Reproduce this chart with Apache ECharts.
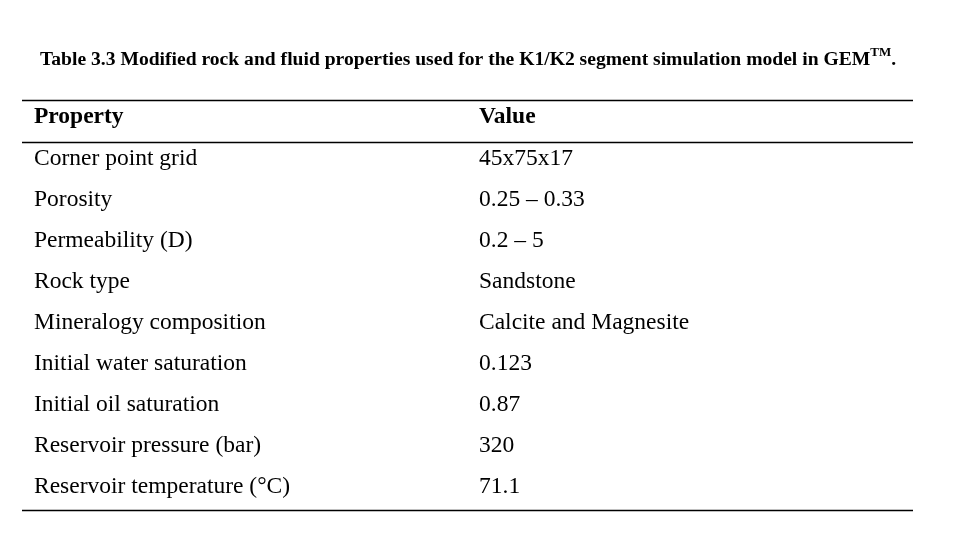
<!DOCTYPE html>
<html><head><meta charset="utf-8">
<script src="https://cdn.jsdelivr.net/npm/echarts@6/dist/echarts.min.js"></script>
<style>html,body{margin:0;padding:0;background:#fff}#c{width:954px;height:544px}</style>
</head><body><div id="c"></div>
<script>
const titleMain = "Table 3.3 Modified rock and fluid properties used for the K1/K2 segment simulation model in GEM";
const titleSup = "TM";
const headers = ["Property", "Value"];
const properties = ["Corner point grid","Porosity","Permeability (D)","Rock type","Mineralogy composition","Initial water saturation","Initial oil saturation","Reservoir pressure (bar)","Reservoir temperature (\u00B0C)"];
const values = ["45x75x17","0.25 \u2013 0.33","0.2 \u2013 5","Sandstone","Calcite and Magnesite","0.123","0.87","320","71.1"];

const FONT = '"Liberation Serif","Times New Roman",serif';
const FS = 23.5;
const colX = [34, 479];
const chart = echarts.init(document.getElementById('c'));
const rows = properties.map((p, i) => [i, p, values[i]]);
chart.setOption({
  animation: false,
  backgroundColor: '#fff',
  title: {
    left: 35, top: 41,
    text: '{b|' + titleMain + '}{s|' + titleSup + '}{b|.}',
    textStyle: {
      rich: {
        b: {fontFamily: FONT, fontWeight: 'bold', fontSize: 19.6, color: '#000', lineHeight: 24, verticalAlign: 'bottom'},
        s: {fontFamily: FONT, fontWeight: 'bold', fontSize: 13, color: '#000', lineHeight: 24, verticalAlign: 'top'}
      }
    }
  },
  grid: {left: 0, right: 0, top: 138.6, height: 369},
  xAxis: {type: 'value', min: 0, max: 954, show: false},
  yAxis: {type: 'category', inverse: true, data: properties, show: false},
  series: [{
    type: 'custom',
    data: rows,
    renderItem: function (params, api) {
      const idx = api.value(0);
      const children = [];
      for (let c = 0; c < 2; c++) {
        const pt = api.coord([colX[c], idx]);
        children.push({
          type: 'text',
          style: {x: pt[0], y: pt[1], text: c === 0 ? properties[idx] : values[idx],
            font: FS + 'px ' + FONT, fill: '#000', verticalAlign: 'middle', align: 'left'}
        });
      }
      return {type: 'group', children: children};
    }
  }],
  graphic: [
    {type: 'line', shape: {x1: 22, y1: 100.5, x2: 913, y2: 100.5}, style: {stroke: '#000', lineWidth: 1.3}},
    {type: 'line', shape: {x1: 22, y1: 142.5, x2: 913, y2: 142.5}, style: {stroke: '#000', lineWidth: 1.3}},
    {type: 'line', shape: {x1: 22, y1: 510.5, x2: 913, y2: 510.5}, style: {stroke: '#000', lineWidth: 1.3}},
    {type: 'text', x: colX[0], y: 117, style: {text: headers[0], font: 'bold ' + FS + 'px ' + FONT, fill: '#000', verticalAlign: 'middle'}},
    {type: 'text', x: colX[1], y: 117, style: {text: headers[1], font: 'bold ' + FS + 'px ' + FONT, fill: '#000', verticalAlign: 'middle'}}
  ]
});
</script></body></html>
